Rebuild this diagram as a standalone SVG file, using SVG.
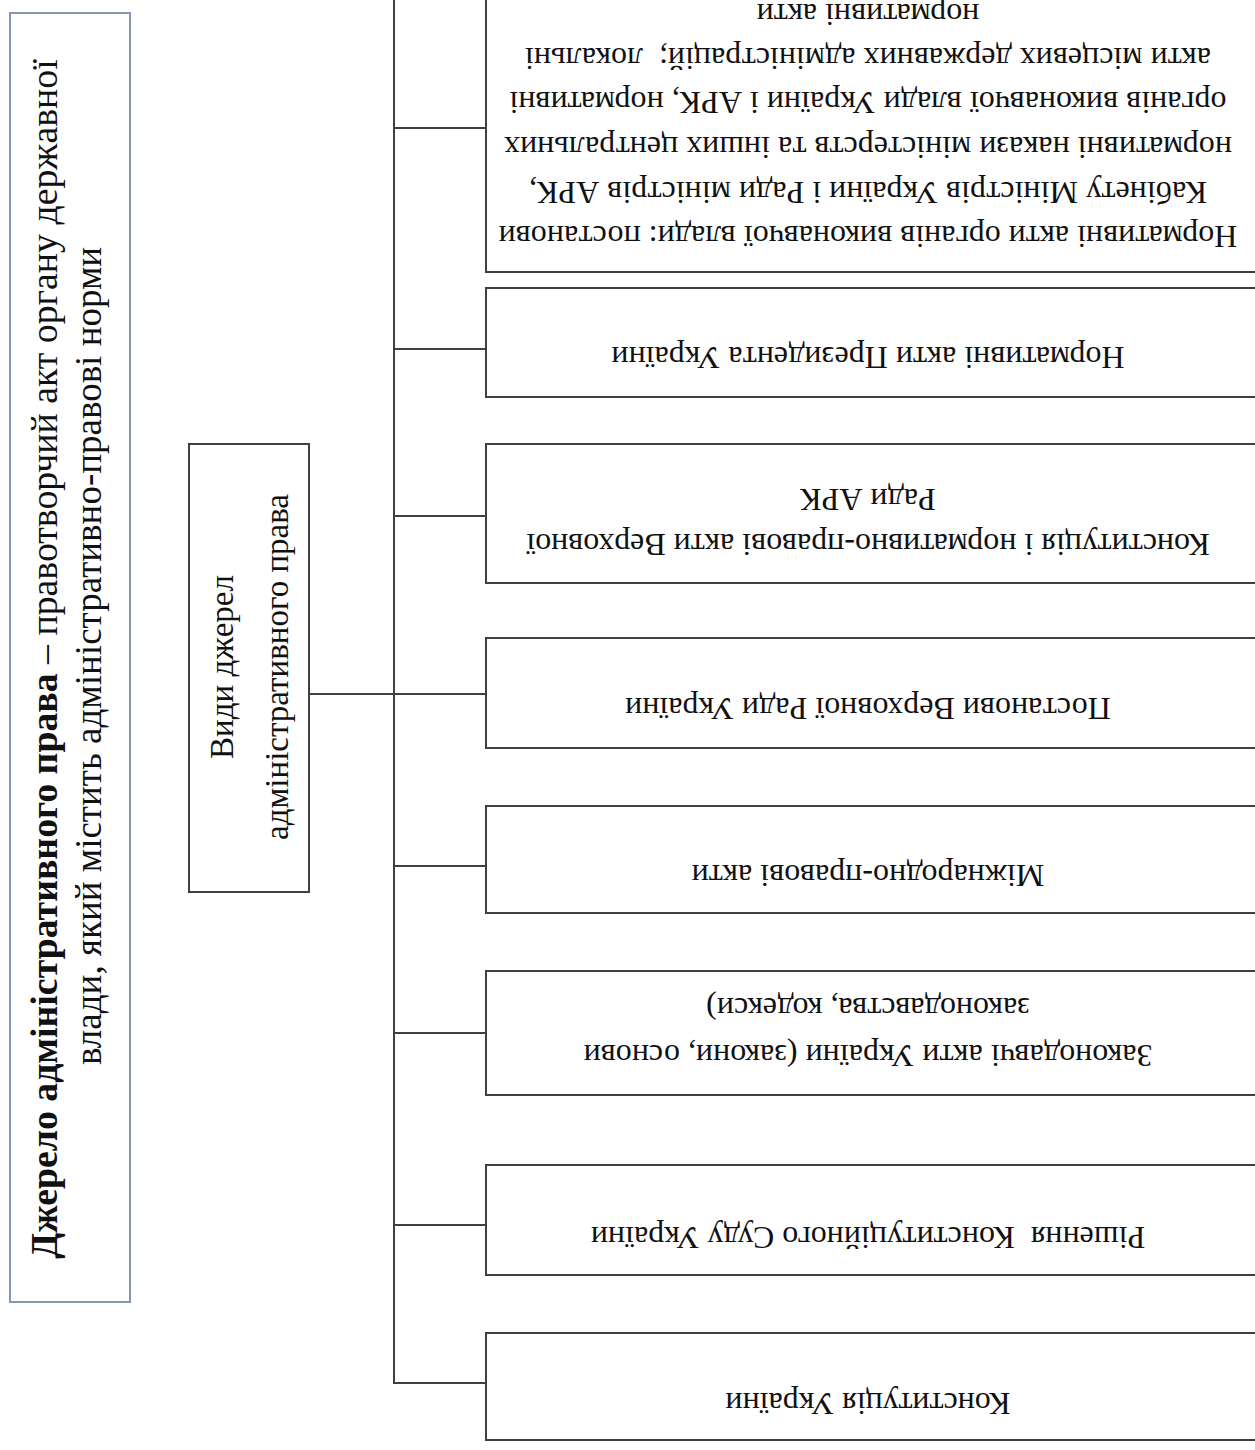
<svg xmlns="http://www.w3.org/2000/svg" width="1255" height="1450" viewBox="0 0 1255 1450">
  <style>
    .box { fill: #ffffff; stroke: #404040; stroke-width: 2; }
    .src { fill: #ffffff; stroke: #8497b0; stroke-width: 2; }
    .wire { fill: none; stroke: #404040; stroke-width: 2; }
    text { font-family: "Liberation Serif", "Times New Roman", serif; fill: #111111; white-space: pre; text-anchor: middle; }
    .item { font-size: 32px; }
    .kind { font-size: 33px; }
    .def { font-size: 37px; }
    .def-lead { font-size: 37.8px; }
    .b { font-weight: bold; }
  </style>

  <rect x="0" y="0" width="1255" height="1450" fill="#ffffff"/>

  <!-- connectors: trunk and branches -->
  <g id="connectors">
    <path class="wire" d="M309 694 H486"/>
    <path class="wire" d="M394 0 V1383 H486"/>
    <path class="wire" d="M394 128 H486"/>
    <path class="wire" d="M394 349 H486"/>
    <path class="wire" d="M394 516 H486"/>
    <path class="wire" d="M394 866 H486"/>
    <path class="wire" d="M394 1033 H486"/>
    <path class="wire" d="M394 1225 H486"/>
  </g>

  <!-- definition box (reads bottom to top) -->
  <g id="definition">
    <rect class="src" x="10" y="13" width="120" height="1289"/>
    <g transform="translate(57 659) rotate(-90)">
      <text class="def-lead" x="0" y="0"><tspan class="b">Джерело адміністративного права</tspan> – правотворчий акт органу державної</text>
    </g>
    <g transform="translate(101 656) rotate(-90)">
      <text class="def" x="0" y="0">влади, який містить адміністративно-правові норми</text>
    </g>
  </g>

  <!-- root node -->
  <g id="kinds">
    <rect class="box" x="189" y="444" width="120" height="448"/>
    <g transform="translate(233 667) rotate(-90)">
      <text class="kind" x="0" y="0">Види джерел</text>
    </g>
    <g transform="translate(288 667) rotate(-90)">
      <text class="kind" x="0" y="0">адміністративного права</text>
    </g>
  </g>

  <!-- source kinds (upside-down labels) -->
  <g id="executive-acts">
    <rect class="box" x="486" y="-10" width="780" height="282"/>
    <g transform="translate(868 233) rotate(180)"><text class="item" x="0" y="7">Нормативні акти органів виконавчої влади: постанови</text></g>
    <g transform="translate(868 188.5) rotate(180)"><text class="item" x="0" y="7">Кабінету Міністрів України і Ради міністрів АРК,</text></g>
    <g transform="translate(868 144) rotate(180)"><text class="item" x="0" y="7">нормативні накази міністерств та інших центральних</text></g>
    <g transform="translate(868 99) rotate(180)"><text class="item" x="0" y="7">органів виконавчої влади України і АРК, нормативні</text></g>
    <g transform="translate(868 54.5) rotate(180)"><text class="item" x="0" y="7">акти місцевих державних адміністрацій;  локальні</text></g>
    <g transform="translate(868 11) rotate(180)"><text class="item" x="0" y="7">нормативні акти</text></g>
  </g>

  <g id="president-acts">
    <rect class="box" x="486" y="288" width="780" height="109"/>
    <g transform="translate(868 354) rotate(180)"><text class="item" x="0" y="7">Нормативні акти Президента України</text></g>
  </g>

  <g id="crimea-acts">
    <rect class="box" x="486" y="444" width="780" height="139"/>
    <g transform="translate(868 541) rotate(180)"><text class="item" x="0" y="7">Конституція і нормативно-правові акти Верховної</text></g>
    <g transform="translate(868 496) rotate(180)"><text class="item" x="0" y="7">Ради АРК</text></g>
  </g>

  <g id="parliament-resolutions">
    <rect class="box" x="486" y="638" width="780" height="110"/>
    <g transform="translate(868 705) rotate(180)"><text class="item" x="0" y="7">Постанови Верховної Ради України</text></g>
  </g>

  <g id="international-acts">
    <rect class="box" x="486" y="806" width="780" height="107"/>
    <g transform="translate(868 872) rotate(180)"><text class="item" x="0" y="7">Міжнародно-правові акти</text></g>
  </g>

  <g id="legislative-acts">
    <rect class="box" x="486" y="971" width="780" height="124"/>
    <g transform="translate(868 1052) rotate(180)"><text class="item" x="0" y="7">Законодавчі акти України (закони, основи</text></g>
    <g transform="translate(868 1005) rotate(180)"><text class="item" x="0" y="7">законодавства, кодекси)</text></g>
  </g>

  <g id="court-decisions">
    <rect class="box" x="486" y="1165" width="780" height="110"/>
    <g transform="translate(868 1234) rotate(180)"><text class="item" x="0" y="7">Рішення  Конституційного Суду України</text></g>
  </g>

  <g id="constitution">
    <rect class="box" x="486" y="1333" width="780" height="107"/>
    <g transform="translate(868 1400) rotate(180)"><text class="item" x="0" y="7">Конституція України</text></g>
  </g>
</svg>
